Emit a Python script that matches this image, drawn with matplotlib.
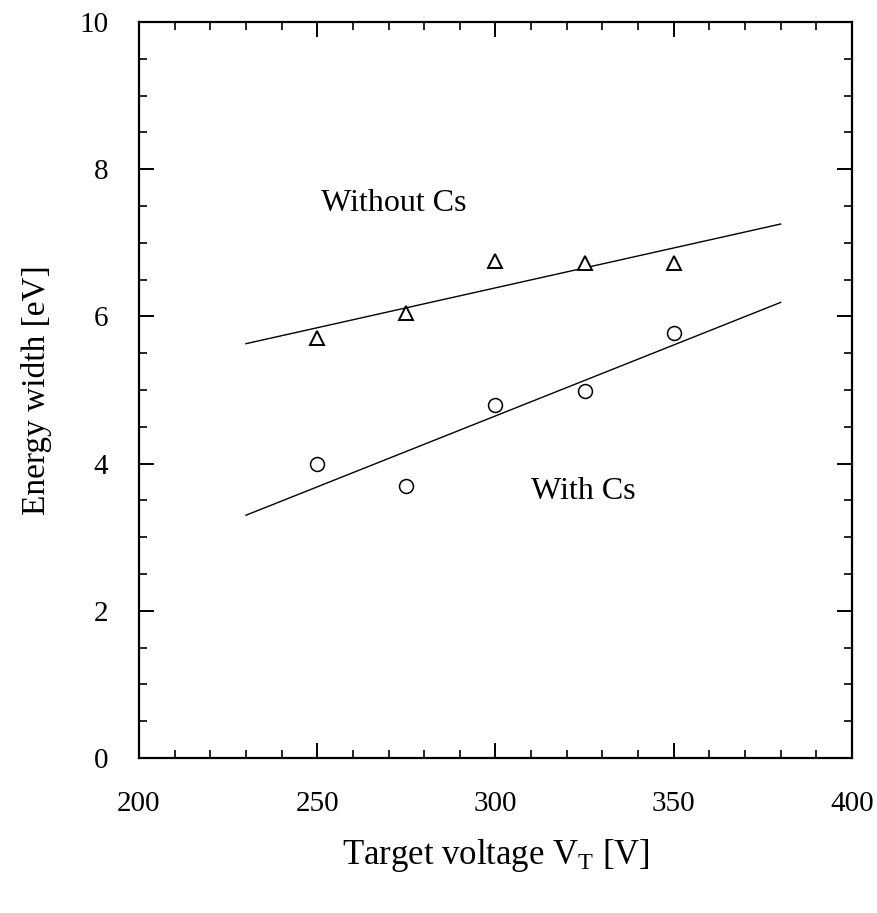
import matplotlib
matplotlib.use("Agg")
import matplotlib.pyplot as plt
import numpy as np
from matplotlib.ticker import MultipleLocator

plt.rcParams['font.family'] = ['Liberation Serif', 'DejaVu Serif']
plt.rcParams['mathtext.fontset'] = 'custom'
plt.rcParams['mathtext.rm'] = 'Liberation Serif'
plt.rcParams['mathtext.it'] = 'Liberation Serif:italic'

# Data
voltage = [250, 275, 300, 325, 350]
width_without_cs = [5.7, 6.05, 6.75, 6.72, 6.72]
width_with_cs = [4.0, 3.7, 4.79, 4.98, 5.77]
fit_range = [230, 380]

x_ticks = [200, 250, 300, 350, 400]
y_ticks = [0, 2, 4, 6, 8, 10]

fig = plt.figure(figsize=(8.78, 9.13), dpi=100)
ax = fig.add_axes([139/878, 1-758/913, (852-139)/878, (758-22)/913])

xf = np.array(fit_range, dtype=float)
for ys in (width_without_cs, width_with_cs):
    p = np.polyfit(voltage, ys, 1)
    ax.plot(xf, np.polyval(p, xf), color='black', lw=1.0)

ax.plot(voltage, width_without_cs, linestyle='none', marker='^', ms=10,
        mfc='white', mec='black', mew=1.4)
ax.plot(voltage, width_with_cs, linestyle='none', marker='o', ms=10,
        mfc='white', mec='black', mew=1.1)

ax.text(271.5, 7.54, 'Without Cs', fontsize=23, ha='center', va='center')
ax.text(324.5, 3.62, 'With Cs', fontsize=23, ha='center', va='center')

ax.set_xlim(200, 400)
ax.set_ylim(0, 10)
ax.set_xticks(x_ticks)
ax.set_yticks(y_ticks)
ax.xaxis.set_minor_locator(MultipleLocator(10))
ax.yaxis.set_minor_locator(MultipleLocator(0.5))
ax.tick_params(which='both', direction='in', top=True, right=True, labelsize=21)
ax.tick_params(which='major', length=11, width=1.4)
ax.tick_params(which='minor', length=5.5, width=1.2)
ax.tick_params(axis='x', which='major', pad=24)
ax.tick_params(axis='y', which='major', pad=22)
for s in ax.spines.values():
    s.set_linewidth(1.6)

ax.set_xlabel(r'Target voltage V$_\mathrm{T}$ [V]', fontsize=25, labelpad=14)
ax.set_ylabel('Energy width [eV]', fontsize=24, labelpad=20)

fig.savefig('out.png', dpi=100)
